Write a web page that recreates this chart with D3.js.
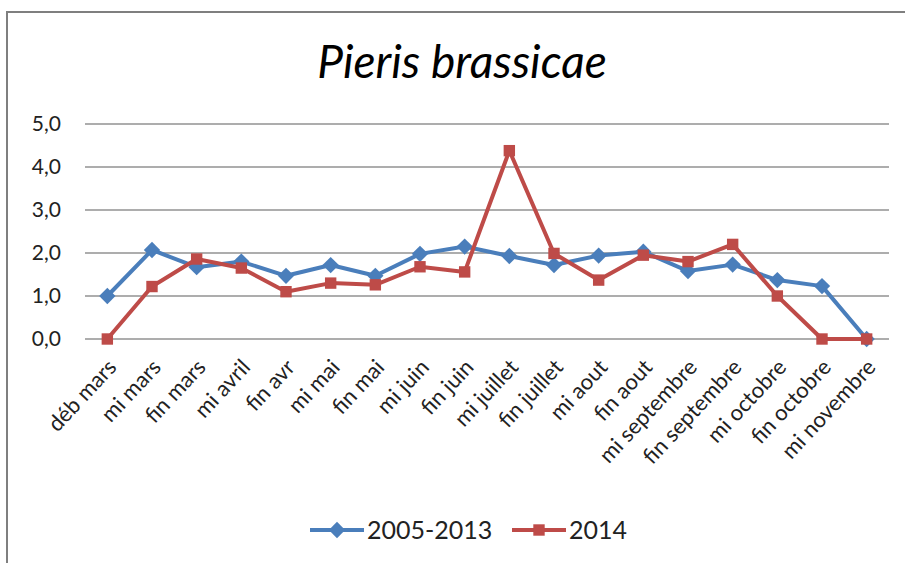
<!DOCTYPE html>
<html>
<head>
<meta charset="utf-8">
<script src="https://cdn.jsdelivr.net/npm/d3@7"></script>
<style>
  body { margin: 0; background: #fff; }
  svg { display: block; font-family: Lato, "Open Sans", sans-serif; }
</style>
</head>
<body>
<svg id="chart" width="905" height="563"></svg>
<script>
// periods on the x axis
var periods = ["déb mars", "mi mars", "fin mars", "mi avril", "fin avr", "mi mai", "fin mai",
  "mi juin", "fin juin", "mi juillet", "fin juillet", "mi aout", "fin aout", "mi septembre",
  "fin septembre", "mi octobre", "fin octobre", "mi novembre"];

var mean0513 = [1.0, 2.07, 1.67, 1.8, 1.47, 1.72, 1.47, 1.98, 2.15, 1.93, 1.72, 1.94, 2.03, 1.58, 1.73, 1.37, 1.23, 0];
var y2014 = [0, 1.22, 1.86, 1.65, 1.1, 1.3, 1.26, 1.68, 1.56, 4.38, 1.99, 1.37, 1.95, 1.8, 2.2, 1.0, 0, 0];
var yTicks = [0, 1, 2, 3, 4, 5];

var series = [
  { name: "2005-2013", values: mean0513, color: "#4a7ebb", marker: "diamond" },
  { name: "2014", values: y2014, color: "#be4b48", marker: "square" }
];

var svg = d3.select("#chart");

// outer frame
svg.append("rect")
  .attr("x", 7).attr("y", 12)
  .attr("width", 920).attr("height", 580)
  .attr("fill", "#fff")
  .attr("stroke", "#7f7f7f")
  .attr("stroke-width", 2);

svg.append("text")
  .attr("x", 462).attr("y", 78)
  .attr("text-anchor", "middle")
  .attr("font-style", "italic")
  .attr("font-size", 46)
  .attr("fill", "#000")
  .text("Pieris brassicae");

var x = d3.scalePoint()
  .domain(periods)
  .range([85, 889])
  .padding(0.5);

var y = d3.scaleLinear()
  .domain([0, 5])
  .range([339, 124]);

// gridlines
svg.append("g")
  .selectAll("line")
  .data(yTicks)
  .join("line")
  .attr("x1", 85).attr("x2", 889)
  .attr("y1", function(d) { return y(d); })
  .attr("y2", function(d) { return y(d); })
  .attr("stroke", "#adadad")
  .attr("stroke-width", 2);

var yAxis = svg.append("g")
  .attr("transform", "translate(64,0)")
  .call(d3.axisLeft(y).tickValues(yTicks).tickSize(0)
    .tickFormat(function(d) { return d3.format(".1f")(d).replace(".", ","); }));
yAxis.select(".domain").remove();
yAxis.selectAll("text")
  .attr("font-size", 21)
  .attr("font-family", "Lato, 'Open Sans', sans-serif")
  .attr("fill", "#222");

var xAxis = svg.append("g")
  .attr("transform", "translate(0,339)")
  .call(d3.axisBottom(x).tickSize(0));
xAxis.select(".domain").remove();
xAxis.selectAll("text")
  .attr("font-size", 22)
  .attr("font-family", "Lato, 'Open Sans', sans-serif")
  .attr("fill", "#222")
  .attr("text-anchor", "end")
  .attr("dy", "0.35em")
  .attr("transform", "translate(2,22) rotate(-47)");

var line = d3.line()
  .x(function(d, i) { return x(periods[i]); })
  .y(function(d) { return y(d); });

var diamond = d3.symbol().type(d3.symbolDiamond2).size(170);
var square = d3.symbol().type(d3.symbolSquare).size(130);

series.forEach(function(s) {
  svg.append("path")
    .datum(s.values)
    .attr("fill", "none")
    .attr("stroke", s.color)
    .attr("stroke-width", 4)
    .attr("stroke-linejoin", "round")
    .attr("d", line);

  svg.append("g")
    .selectAll("path")
    .data(s.values)
    .join("path")
    .attr("transform", function(d, i) { return "translate(" + x(periods[i]) + "," + y(d) + ")"; })
    .attr("d", s.marker === "diamond" ? diamond : square)
    .attr("fill", s.color);
});

// legend
var legendX = [310, 512];
var legend = svg.append("g")
  .selectAll("g")
  .data(series)
  .join("g")
  .attr("transform", function(d, i) { return "translate(" + legendX[i] + ",530)"; });

legend.append("line")
  .attr("x1", 0).attr("x2", 54)
  .attr("stroke", function(d) { return d.color; })
  .attr("stroke-width", 4);

legend.append("path")
  .attr("transform", "translate(27,0)")
  .attr("d", function(d) { return d.marker === "diamond" ? diamond() : square(); })
  .attr("fill", function(d) { return d.color; });

legend.append("text")
  .attr("x", 57)
  .attr("dy", "0.35em")
  .attr("font-size", 25)
  .attr("fill", "#222")
  .text(function(d) { return d.name; });
</script>
</body>
</html>
